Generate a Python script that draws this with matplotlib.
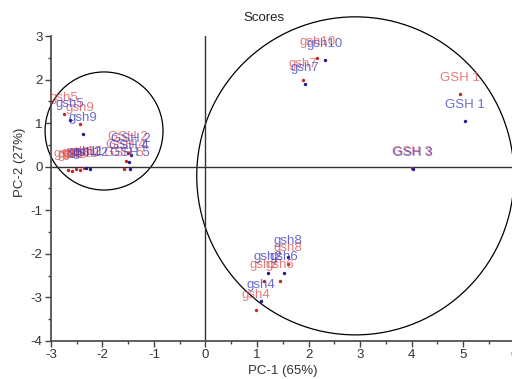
"""
PCA scores plot: two replicate series (red / blue) with sample labels
"""
import matplotlib
matplotlib.use("Agg")
import matplotlib.pyplot as plt
from matplotlib.patches import Ellipse
from matplotlib.ticker import MultipleLocator

plt.rcParams['font.family'] = ['Liberation Sans', 'DejaVu Sans']
plt.rcParams['axes.unicode_minus'] = False

# replicate 1 (red)
red_labels = ['GSH 1', 'GSH 3', 'gsh10', 'gsh7',
              'gsh8', 'gsh2', 'gsh6', 'gsh4',
              'gsh5', 'gsh9',
              'gsh1', 'gsh2', 'gsh3', 'gsh11', 'gsh12',
              'GSH 2', 'GSH 4', 'GSH 5']
red_x = [4.94, 4.01, 2.17, 1.89,
         1.60, 1.14, 1.45, 0.98,
         -2.75, -2.44,
         -2.67, -2.59, -2.51, -2.44, -2.36,
         -1.50, -1.54, -1.58]
red_y = [1.67, -0.02, 2.49, 1.99,
         -2.24, -2.63, -2.63, -3.30,
         1.21, 0.98,
         -0.07, -0.09, -0.05, -0.07, -0.04,
         0.32, 0.14, -0.05]

# replicate 2 (blue)
blue_labels = ['GSH 1', 'GSH 3', 'gsh10', 'gsh7',
               'gsh8', 'gsh2', 'gsh6', 'gsh4',
               'gsh5', 'gsh9',
               'gsh11', 'gsh12',
               'GSH 2', 'GSH 4', 'GSH 5']
blue_x = [5.04, 4.03, 2.32, 1.93,
          1.60, 1.21, 1.52, 1.08,
          -2.63, -2.38,
          -2.32, -2.24,
          -1.45, -1.49, -1.47]
blue_y = [1.05, -0.05, 2.45, 1.90,
          -2.08, -2.45, -2.43, -3.09,
          1.08, 0.76,
          -0.02, -0.05,
          0.27, 0.11, -0.05]

# group circles: centre x, centre y, width, height
groups = [(-1.97, 0.82, 2.29, 2.71),
          (2.91, -0.21, 6.16, 7.30)]

fig = plt.figure(figsize=(5.12, 3.79), dpi=100)
ax = fig.add_axes([0.0996, 0.1003, 0.9053, 0.8047])
ax.set_xlim(-3, 6)
ax.set_ylim(-4, 3)

for cx, cy, w, h in groups:
    ax.add_patch(Ellipse((cx, cy), w, h, fill=False, ec='black',
                         lw=0.9, clip_on=False, zorder=1))

ax.axvline(0, color='#333333', lw=1.0, zorder=1)
ax.axhline(0, color='#333333', lw=1.0, zorder=1)

ax.scatter(red_x, red_y, s=6, color='#c02828', zorder=2, linewidths=0)
ax.scatter(blue_x, blue_y, s=6, color='#1c1c90', zorder=2, linewidths=0)

for lab, x, y in zip(red_labels, red_x, red_y):
    ax.annotate(lab, (x, y), xytext=(0, 11.5), textcoords='offset points',
                ha='center', va='center', fontsize=9.5, color='#e05050',
                alpha=0.75, zorder=3)
for lab, x, y in zip(blue_labels, blue_x, blue_y):
    ax.annotate(lab, (x, y), xytext=(0, 11.5), textcoords='offset points',
                ha='center', va='center', fontsize=9.5, color='#3a3ac0',
                alpha=0.75, zorder=3)

for side in ['top', 'right']:
    ax.spines[side].set_visible(False)
for side in ['left', 'bottom']:
    ax.spines[side].set_color('#444444')
    ax.spines[side].set_linewidth(1.2)

ax.xaxis.set_major_locator(MultipleLocator(1))
ax.xaxis.set_minor_locator(MultipleLocator(0.5))
ax.yaxis.set_major_locator(MultipleLocator(1))
ax.yaxis.set_minor_locator(MultipleLocator(0.5))
ax.tick_params(which='major', length=4, width=1, color='#444444',
               labelsize=9.5, labelcolor='#333333', pad=2)
ax.tick_params(which='minor', length=2, width=1, color='#444444')

fig.text(264 / 512, 1 - 18 / 379, 'Scores', ha='center', va='center',
         fontsize=9.5, color='#222222')
fig.text(283 / 512, 1 - 371 / 379, 'PC-1 (65%)', ha='center', va='center',
         fontsize=9.5, color='#333333')
fig.text(20 / 512, 1 - 162 / 379, 'PC-2 (27%)', ha='center', va='center',
         rotation=90, fontsize=9.5, color='#333333')

fig.savefig('out.png', dpi=100)
